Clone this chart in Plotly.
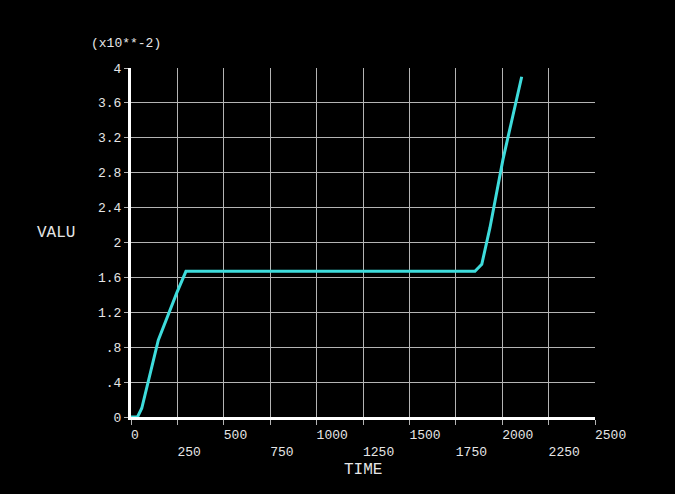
import plotly.graph_objects as go

# Zaman ve değer serisi (değerler x10**-2 ölçeğinde)
time = [0, 35, 58, 147, 246, 296, 1853, 1890, 1934, 2004, 2105]
valu = [0, 0, 0.10, 0.88, 1.42, 1.67, 1.67, 1.75, 2.17, 2.95, 3.90]

x_ticks = [0, 250, 500, 750, 1000, 1250, 1500, 1750, 2000, 2250, 2500]
y_ticks = [0, 0.4, 0.8, 1.2, 1.6, 2, 2.4, 2.8, 3.2, 3.6, 4]
y_labels = ["0", ".4", ".8", "1.2", "1.6", "2", "2.4", "2.8", "3.2", "3.6", "4"]

mono = "Courier New, Liberation Mono, monospace"
grid = "#b4b4b4"

# Etiketler çizginin sağından başlasın diye boşlukla dolduruluyor,
# tek sıradakiler alt satıra kayıyor
nb = "\u00a0"
x_labels = []
for i, v in enumerate(x_ticks):
    s = str(v)
    s = nb * len(s) + s
    x_labels.append(s if i % 2 == 0 else "<br>" + s)

fig = go.Figure()
fig.add_trace(
    go.Scatter(
        x=time,
        y=valu,
        mode="lines",
        line=dict(color="#3edcdc", width=3),
        showlegend=False,
    )
)

fig.update_layout(
    width=675,
    height=494,
    paper_bgcolor="black",
    plot_bgcolor="black",
    margin=dict(l=131, r=80, t=68, b=77),
    font=dict(family=mono, size=13, color="#e6e6e6"),
)

fig.update_xaxes(
    range=[0, 2500],
    tickvals=x_ticks,
    ticktext=x_labels,
    tickangle=0,
    automargin=False,
    ticks="outside",
    ticklen=5,
    tickcolor=grid,
    ticklabelstandoff=-2,
    showgrid=True,
    gridcolor=grid,
    gridwidth=1,
    zeroline=False,
    showline=True,
    linecolor="white",
    linewidth=3,
    tickfont=dict(family=mono, size=13, color="#e6e6e6"),
)
fig.update_yaxes(
    range=[0, 4],
    tickvals=y_ticks,
    ticktext=y_labels,
    automargin=False,
    ticks="outside",
    ticklen=4,
    tickcolor=grid,
    showgrid=True,
    gridcolor=grid,
    gridwidth=1,
    zeroline=False,
    showline=True,
    linecolor="white",
    linewidth=3,
    tickfont=dict(family=mono, size=13, color="#e6e6e6"),
)

fig.add_annotation(
    text="(x10**-2)", xref="paper", yref="paper", x=-0.09, y=1.07,
    xanchor="left", yanchor="middle", showarrow=False,
    font=dict(family=mono, size=13, color="#e6e6e6"),
)
fig.add_annotation(
    text="VALU", xref="paper", yref="paper", x=-0.162, y=0.527,
    xanchor="center", yanchor="middle", showarrow=False,
    font=dict(family=mono, size=16, color="#e6e6e6"),
)
fig.add_annotation(
    text="TIME", xref="paper", yref="paper", x=0.5, y=-0.152,
    xanchor="center", yanchor="middle", showarrow=False,
    font=dict(family=mono, size=16, color="#e6e6e6"),
)

fig.write_html(
    "out.html",
    config={"displayModeBar": False},
    post_script="document.body.style.margin='0';document.body.style.background='black';",
)
